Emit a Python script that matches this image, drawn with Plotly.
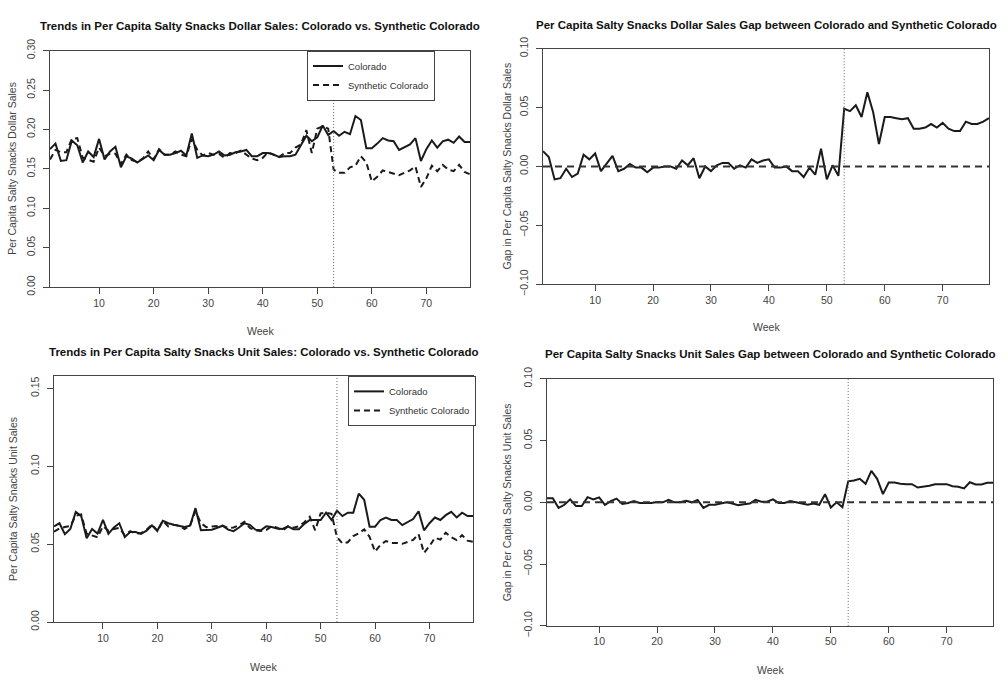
import plotly.graph_objects as go

weeks = list(range(1, 79))

dollar_colorado = [
    0.175, 0.182, 0.160, 0.161, 0.186, 0.180, 0.158, 0.172, 0.165, 0.188,
    0.162, 0.172, 0.178, 0.152, 0.166, 0.163, 0.158, 0.162, 0.167, 0.161,
    0.174, 0.168, 0.168, 0.170, 0.173, 0.167, 0.195, 0.164, 0.167, 0.166,
    0.168, 0.172, 0.167, 0.168, 0.171, 0.172, 0.174, 0.166, 0.166, 0.170,
    0.170, 0.168, 0.165, 0.166, 0.166, 0.168, 0.180, 0.192, 0.185, 0.190,
    0.205, 0.193, 0.198, 0.192, 0.197, 0.194, 0.217, 0.212, 0.176, 0.176,
    0.182, 0.189, 0.186, 0.185, 0.174, 0.177, 0.181, 0.189, 0.160, 0.175,
    0.186, 0.177, 0.185, 0.187, 0.183, 0.191, 0.184, 0.184]

dollar_synthetic = [
    0.162, 0.174, 0.171, 0.171, 0.188, 0.189, 0.164, 0.162, 0.159, 0.177,
    0.166, 0.169, 0.169, 0.156, 0.168, 0.161, 0.159, 0.163, 0.172, 0.162,
    0.175, 0.168, 0.168, 0.172, 0.168, 0.166, 0.188, 0.174, 0.167, 0.170,
    0.168, 0.169, 0.164, 0.170, 0.170, 0.173, 0.168, 0.163, 0.161, 0.164,
    0.171, 0.168, 0.165, 0.170, 0.170, 0.177, 0.181, 0.199, 0.170, 0.201,
    0.204, 0.201, 0.149, 0.145, 0.145, 0.152, 0.154, 0.166, 0.158, 0.134,
    0.140, 0.148, 0.146, 0.144, 0.142, 0.145, 0.148, 0.153, 0.127, 0.138,
    0.154, 0.147, 0.155, 0.149, 0.147, 0.155, 0.146, 0.143]

dollar_gap = [
    0.013, 0.008, -0.011, -0.010, -0.002, -0.009, -0.006, 0.010, 0.006, 0.011,
    -0.004, 0.003, 0.009, -0.004, -0.002, 0.002, -0.001, -0.001, -0.005, -0.001,
    -0.001, 0.000, 0.000, -0.002, 0.005, 0.001, 0.007, -0.010, 0.000, -0.004,
    0.001, 0.003, 0.003, -0.002, 0.001, -0.001, 0.006, 0.003, 0.005, 0.006,
    -0.001, -0.001, 0.000, -0.004, -0.004, -0.009, -0.001, -0.007, 0.015, -0.011,
    0.001, -0.008, 0.049, 0.047, 0.052, 0.042, 0.063, 0.046, 0.019, 0.042,
    0.042, 0.041, 0.040, 0.041, 0.032, 0.032, 0.033, 0.036, 0.033, 0.037,
    0.032, 0.030, 0.030, 0.038, 0.036, 0.036, 0.038, 0.041]

unit_colorado = [
    0.0614, 0.0634, 0.0564, 0.0597, 0.0707, 0.0680, 0.0537, 0.0597, 0.0568, 0.0655,
    0.0566, 0.0607, 0.0634, 0.0545, 0.0578, 0.0578, 0.0566, 0.0587, 0.0620, 0.0587,
    0.0650, 0.0634, 0.0624, 0.0618, 0.0610, 0.0618, 0.0731, 0.0589, 0.0589, 0.0593,
    0.0605, 0.0618, 0.0593, 0.0583, 0.0607, 0.0634, 0.0624, 0.0593, 0.0589, 0.0614,
    0.0610, 0.0601, 0.0597, 0.0614, 0.0595, 0.0595, 0.0630, 0.0655, 0.0655, 0.0655,
    0.0702, 0.0655, 0.0715, 0.0680, 0.0702, 0.0702, 0.0824, 0.0785, 0.0612, 0.0612,
    0.0655, 0.0670, 0.0655, 0.0655, 0.0622, 0.0643, 0.0661, 0.0711, 0.0589, 0.0634,
    0.0671, 0.0655, 0.0686, 0.0707, 0.0671, 0.0702, 0.0680, 0.0680]

unit_synthetic = [
    0.0580, 0.0600, 0.0610, 0.0617, 0.0683, 0.0690, 0.0567, 0.0557, 0.0544, 0.0615,
    0.0586, 0.0597, 0.0604, 0.0558, 0.0583, 0.0568, 0.0571, 0.0592, 0.0625, 0.0584,
    0.0650, 0.0614, 0.0624, 0.0618, 0.0597, 0.0618, 0.0711, 0.0634, 0.0609, 0.0613,
    0.0615, 0.0618, 0.0603, 0.0607, 0.0622, 0.0644, 0.0604, 0.0588, 0.0584, 0.0590,
    0.0615, 0.0606, 0.0587, 0.0614, 0.0605, 0.0615, 0.0640, 0.0675, 0.0589, 0.0697,
    0.0702, 0.0695, 0.0545, 0.0504, 0.0512, 0.0552, 0.0569, 0.0595, 0.0546, 0.0452,
    0.0495, 0.0520, 0.0508, 0.0508, 0.0502, 0.0517, 0.0527, 0.0564, 0.0444, 0.0487,
    0.0541, 0.0529, 0.0573, 0.0544, 0.0526, 0.0557, 0.0522, 0.0515]

unit_gap = [
    0.0034, 0.0034, -0.0045, -0.0020, 0.0024, -0.0030, -0.0030, 0.0042, 0.0024, 0.0040,
    -0.0020, 0.0010, 0.0030, -0.0013, -0.0005, 0.0010, -0.0005, -0.0005, -0.0005, 0.0003,
    0.0000, 0.0020, 0.0000, 0.0000, 0.0013, 0.0000, 0.0020, -0.0045, -0.0020, -0.0020,
    -0.0010, 0.0000, -0.0010, -0.0024, -0.0015, -0.0010, 0.0020, 0.0005, 0.0005, 0.0024,
    -0.0005, -0.0005, 0.0010, 0.0000, -0.0010, -0.0020, -0.0010, -0.0020, 0.0066, -0.0042,
    0.0000, -0.0040, 0.0170, 0.0176, 0.0190, 0.0150, 0.0255, 0.0190, 0.0066, 0.0160,
    0.0160, 0.0150, 0.0147, 0.0147, 0.0120, 0.0126, 0.0134, 0.0147, 0.0145, 0.0147,
    0.0130, 0.0126, 0.0113, 0.0163, 0.0145, 0.0145, 0.0158, 0.0158]

treatment_week = 53

titles = [
    "Trends in Per Capita Salty Snacks Dollar Sales: Colorado vs. Synthetic Colorado",
    "Per Capita Salty Snacks Dollar Sales Gap between Colorado and Synthetic Colorado",
    "Trends in Per Capita Salty Snacks Unit Sales: Colorado vs. Synthetic Colorado",
    "Per Capita Salty Snacks Unit Sales Gap between Colorado and Synthetic Colorado",
]
y_titles = [
    "Per Capita Salty Snacks Dollar Sales",
    "Gap in Per Capita Salty Snacks Dollar Sales",
    "Per Capita Salty Snacks Unit Sales",
    "Gap in Per Capita Salty Snacks Unit Sales",
]
x_title = "Week"
x_ticks = [10, 20, 30, 40, 50, 60, 70]
y_ticks_dollar = [0.00, 0.05, 0.10, 0.15, 0.20, 0.25, 0.30]
y_ticks_gap = [-0.10, -0.05, 0.00, 0.05, 0.10]
y_ticks_unit = [0.00, 0.05, 0.10, 0.15]

W, H = 1008, 690
FONT = "Liberation Sans, Arial, sans-serif"
LINE = "#1a1a1a"

# plot areas in pixels: (left, right, top, bottom)
boxes = [
    (50, 470, 40, 285),
    (543, 989, 38, 282),
    (54, 473, 377, 632),
    (547, 993, 380, 636),
]
title_y = [15, 13, 352, 354]
xlabel_y = [330, 326, 679, 682]
ylabel_x = [12, 507, 13, 507]
yranges = [[0, 0.30], [-0.10, 0.10], [0, 0.158], [-0.10, 0.10]]
ytickvals = [y_ticks_dollar, y_ticks_gap, y_ticks_unit, y_ticks_gap]

fig = go.Figure()

solid = dict(color=LINE, width=2)
dashed = dict(color=LINE, width=2, dash="6px,4px")

fig.add_trace(go.Scatter(x=weeks, y=dollar_colorado, mode="lines", line=solid,
                         name="Colorado", xaxis="x", yaxis="y", legend="legend"))
fig.add_trace(go.Scatter(x=weeks, y=dollar_synthetic, mode="lines", line=dashed,
                         name="Synthetic Colorado", xaxis="x", yaxis="y", legend="legend"))
fig.add_trace(go.Scatter(x=weeks, y=dollar_gap, mode="lines", line=solid,
                         name="Gap", xaxis="x2", yaxis="y2", showlegend=False))
fig.add_trace(go.Scatter(x=weeks, y=unit_colorado, mode="lines", line=solid,
                         name="Colorado", xaxis="x3", yaxis="y3", legend="legend2"))
fig.add_trace(go.Scatter(x=weeks, y=unit_synthetic, mode="lines", line=dashed,
                         name="Synthetic Colorado", xaxis="x3", yaxis="y3", legend="legend2"))
fig.add_trace(go.Scatter(x=weeks, y=unit_gap, mode="lines", line=solid,
                         name="Gap", xaxis="x4", yaxis="y4", showlegend=False))

axis_common = dict(showline=True, mirror=True, linecolor="#444", linewidth=1,
                   ticks="outside", ticklen=6, tickcolor="#444", tickwidth=1,
                   showgrid=False, zeroline=False,
                   tickfont=dict(family=FONT, size=10.5, color="#444"))

layout = dict(width=W, height=H, margin=dict(l=0, r=0, t=0, b=0),
              paper_bgcolor="white", plot_bgcolor="white",
              font=dict(family=FONT, color="#333"))

annotations = []
shapes = []
for i, (l, r, t, b) in enumerate(boxes):
    sfx = "" if i == 0 else str(i + 1)
    layout["xaxis" + sfx] = dict(axis_common, domain=[l / W, r / W], range=[1, 78],
                                 tickvals=x_ticks, anchor="y" + sfx)
    layout["yaxis" + sfx] = dict(axis_common, domain=[1 - b / H, 1 - t / H],
                                 range=yranges[i], tickvals=ytickvals[i],
                                 tickformat=".2f", tickangle=-90, anchor="x" + sfx,
                                 ticklabelstandoff=4)
    cx = (l + r) / 2
    annotations.append(dict(text="<b>" + titles[i] + "</b>", x=cx / W, y=1 - title_y[i] / H,
                            xref="paper", yref="paper", showarrow=False,
                            xanchor="center", yanchor="middle",
                            font=dict(family=FONT, size=11.5, color="#111")))
    annotations.append(dict(text=x_title, x=cx / W, y=1 - xlabel_y[i] / H,
                            xref="paper", yref="paper", showarrow=False,
                            xanchor="center", yanchor="middle",
                            font=dict(family=FONT, size=10.5, color="#444")))
    annotations.append(dict(text=y_titles[i], x=ylabel_x[i] / W, y=1 - ((t + b) / 2) / H,
                            xref="paper", yref="paper", showarrow=False, textangle=-90,
                            xanchor="center", yanchor="middle",
                            font=dict(family=FONT, size=10.5, color="#444")))
    shapes.append(dict(type="line", xref="x" + sfx, yref="y" + sfx + " domain",
                       x0=treatment_week, x1=treatment_week, y0=0, y1=1,
                       line=dict(color="#666", width=1, dash="1px,2px")))
    if i in (1, 3):
        shapes.append(dict(type="line", xref="x" + sfx + " domain", yref="y" + sfx,
                           x0=0, x1=1, y0=0, y1=0,
                           line=dict(color="#333", width=2, dash="7px,5px")))

legend_common = dict(bgcolor="white", bordercolor="#444", borderwidth=1,
                     font=dict(family=FONT, size=9.5, color="#333"),
                     itemwidth=30, tracegroupgap=0, xanchor="left", yanchor="top",
                     entrywidth=125, entrywidthmode="pixels")
layout["legend"] = dict(legend_common, x=307 / W, y=1 - 40 / H)
layout["legend2"] = dict(legend_common, x=348 / W, y=1 - 377 / H)
layout["annotations"] = annotations
layout["shapes"] = shapes

fig.update_layout(**layout)
fig.write_html("out.html")
